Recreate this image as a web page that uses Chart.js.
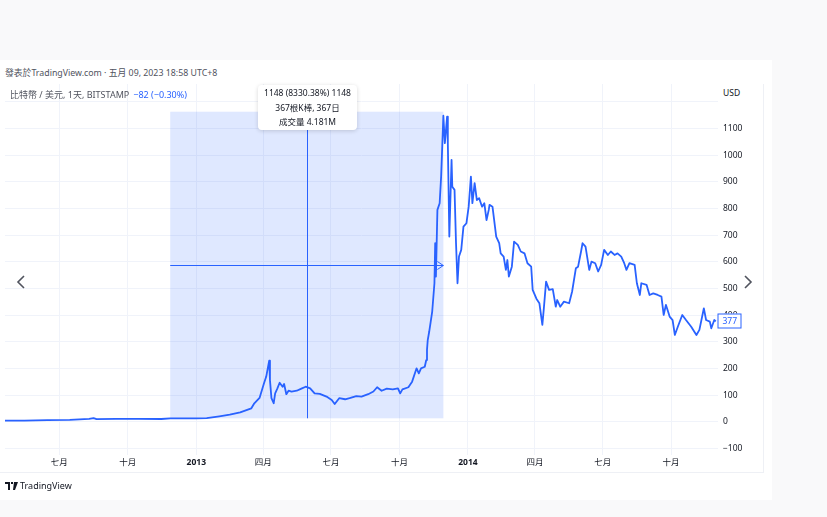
<!DOCTYPE html>
<html><head><meta charset="utf-8">
<script src="https://cdn.jsdelivr.net/npm/chart.js@4.4.0/dist/chart.umd.min.js"></script>
<style>
html,body{margin:0;padding:0;background:#f9f9fa;width:827px;height:517px;overflow:hidden;font-family:"Noto Sans","Noto Sans CJK TC",sans-serif;color:#131722;}
#card{position:absolute;left:0;top:60px;width:772px;height:440px;background:#fff;}
#hdr{position:absolute;left:5px;top:66px;font-size:8.8px;line-height:14px;color:#50535e;white-space:nowrap;}
#panel{position:absolute;left:0;top:84px;width:764px;height:389px;border-right:1px solid #eef0f5;border-bottom:1px solid #eef0f5;box-sizing:border-box;}
#wrap{position:absolute;left:0;top:84px;width:763px;height:388px;}
#legend{position:absolute;left:10px;top:88px;font-size:9px;line-height:14px;color:#50535e;white-space:nowrap;}
#legend .chg{color:#2962ff;margin-left:4px;}
#usd{position:absolute;left:723px;top:87px;font-size:8.5px;line-height:12px;color:#131722;background:#fff;padding-right:6px;}
#tip{position:absolute;left:258px;top:85px;width:99px;height:45px;background:#fff;border-radius:4px;box-shadow:0 1px 4px rgba(0,0,0,0.16);font-size:8.5px;line-height:14.6px;text-align:center;color:#131722;padding-top:1px;box-sizing:border-box;white-space:nowrap;}
#logo{position:absolute;left:5px;top:480px;font-size:9px;line-height:12px;color:#131722;white-space:nowrap;}
#logo svg{vertical-align:-1px;margin-right:2px;}
.chev{position:absolute;top:274px;}
</style>
</head><body>
<div id="card"></div>
<div id="hdr">發表於TradingView.com · 五月 09, 2023 18:58 UTC+8</div>
<div id="panel"></div>
<div id="wrap"><canvas id="c" width="763" height="388"></canvas></div>
<div id="legend">比特幣 / 美元, 1天, BITSTAMP<span class="chg">−82 (−0.30%)</span></div>
<div id="usd">USD</div>
<div id="tip">1148 (8330.38%) 1148<br>367根K棒, 367日<br>成交量 4.181M</div>
<svg class="chev" style="left:16px" width="10" height="16" viewBox="0 0 10 16"><polyline points="8,2 2,8 8,14" fill="none" stroke="#50535e" stroke-width="1.6"/></svg>
<svg class="chev" style="left:743px" width="10" height="16" viewBox="0 0 10 16"><polyline points="2,2 8,8 2,14" fill="none" stroke="#50535e" stroke-width="1.6"/></svg>
<div id="logo"><svg width="13" height="8" viewBox="0 0 13 8"><path d="M0 0h5v8H3V2H0z M6 0h2v2H6z M9 0h4l-3 8H8z" fill="#131722"/></svg>TradingView</div>
<script>
// ---- data ----
const dates = [
'2012-04-10','2012-05-15','2012-06-15','2012-07-15','2012-08-10','2012-08-16','2012-08-20','2012-09-15','2012-10-15','2012-11-15','2012-11-27','2012-12-15',
'2013-01-01','2013-01-15','2013-02-01','2013-02-15','2013-03-01','2013-03-16','2013-03-20','2013-03-27','2013-04-02','2013-04-05','2013-04-09','2013-04-10',
'2013-04-12','2013-04-15','2013-04-17','2013-04-20','2013-04-23','2013-04-27','2013-04-29','2013-05-02','2013-05-05','2013-05-09','2013-05-16','2013-05-23',
'2013-05-28','2013-06-03','2013-06-09','2013-06-16','2013-06-25','2013-07-02','2013-07-06','2013-07-12','2013-07-20','2013-07-26','2013-08-04','2013-08-11',
'2013-08-20','2013-08-27','2013-09-01','2013-09-07','2013-09-14','2013-09-22','2013-09-29','2013-10-02','2013-10-05','2013-10-13','2013-10-18','2013-10-24',
'2013-10-27','2013-10-30','2013-11-04','2013-11-06','2013-11-07','2013-11-08','2013-11-10','2013-11-14','2013-11-17','2013-11-18','2013-11-19','2013-11-21',
'2013-11-24','2013-11-26','2013-11-29','2013-12-01','2013-12-04','2013-12-05','2013-12-07','2013-12-10','2013-12-11','2013-12-14','2013-12-16','2013-12-18',
'2013-12-20','2013-12-23','2013-12-26','2013-12-30','2014-01-02','2014-01-05','2014-01-07','2014-01-10','2014-01-13','2014-01-16','2014-01-20','2014-01-23',
'2014-01-26','2014-01-29','2014-01-30','2014-02-03','2014-02-08','2014-02-12','2014-02-14','2014-02-18','2014-02-21','2014-02-23','2014-02-25','2014-03-01',
'2014-03-04','2014-03-09','2014-03-13','2014-03-18','2014-03-22','2014-03-27','2014-03-29','2014-04-03','2014-04-07','2014-04-11','2014-04-13','2014-04-16',
'2014-04-20','2014-04-25','2014-04-29','2014-05-01','2014-05-05','2014-05-10','2014-05-17','2014-05-21','2014-05-26','2014-05-29','2014-06-02','2014-06-04',
'2014-06-08','2014-06-13','2014-06-16','2014-06-21','2014-06-25','2014-06-29','2014-07-03','2014-07-08','2014-07-12','2014-07-17','2014-07-21','2014-07-26',
'2014-07-30','2014-08-02','2014-08-06','2014-08-13','2014-08-16','2014-08-20','2014-08-22','2014-08-29','2014-09-02','2014-09-07','2014-09-13','2014-09-18',
'2014-09-21','2014-09-24','2014-09-29','2014-10-03','2014-10-06','2014-10-10','2014-10-16','2014-10-21','2014-10-28','2014-11-04','2014-11-08','2014-11-14',
'2014-11-17','2014-11-22','2014-11-24','2014-11-28','2014-11-30'];
const prices = [
5.0,5.0,6.5,7.6,11.5,14.5,10.5,11.5,11.8,11.0,13.6,13.5,
13.5,14.5,21,27,36,51,70,90,145,170,230,157,
89,70,107,126,147,132,142,104,117,114,117,126,
132,126,107,105,95,82,67,89,85,89,97,95,
104,114,130,117,125,122,126,107,122,130,151,201,
182,201,207,232,270,307,339,414,520,670,545,795,
820,920,1148,1045,1145,1045,695,982,882,870,670,520,
620,645,732,745,807,920,820,895,832,839,807,820,
757,795,814,807,695,670,632,620,570,607,545,582,
676,664,639,632,595,582,495,462,445,364,426,526,
495,498,432,457,432,451,445,489,576,582,639,670,
657,570,601,595,564,589,645,626,639,626,632,620,
595,570,595,589,520,476,520,514,476,482,476,470,
401,439,395,382,326,357,401,382,357,326,345,426,
382,376,351,382,377];
const tickDates = ['2012-07-01','2012-10-01','2013-01-01','2013-04-01','2013-07-01','2013-10-01','2014-01-01','2014-04-01','2014-07-01','2014-10-01'];
const tickLabels = ['七月','十月','2013','四月','七月','十月','2014','四月','七月','十月'];
const yTicks = [-100,0,100,200,300,400,500,600,700,800,900,1000,1100,1200];
const rangeDates = ['2012-11-27','2013-11-29'];
const rangeValues = [13.6, 1163];
const lastPrice = 377;
const viewDates = ['2012-04-19','2014-12-03'];
const viewValues = [-124, 1267];

// ---- helpers ----
const BASE = Date.UTC(2013,0,1);
function dayOf(s){const p=s.split('-').map(Number);return (Date.UTC(p[0],p[1]-1,p[2])-BASE)/86400000;}
const yearLabels = new Set(['2013','2014']);
const FONT = '"Noto Sans","Noto Sans CJK TC",sans-serif';
const BLUE = '#2962ff';

const overlay = {
  id:'overlay',
  beforeDatasetsDraw(chart){
    const {ctx,scales:{x,y}} = chart;
    const x0=x.getPixelForValue(dayOf(rangeDates[0])), x1=x.getPixelForValue(dayOf(rangeDates[1]));
    const y0=y.getPixelForValue(rangeValues[0]), y1=y.getPixelForValue(rangeValues[1]);
    ctx.save();
    ctx.fillStyle='rgba(41,98,255,0.15)';
    ctx.fillRect(x0,y1,x1-x0,y0-y1);
    ctx.restore();
  },
  afterDatasetsDraw(chart){
    const {ctx,scales:{x,y}} = chart;
    const d0=dayOf(rangeDates[0]), d1=dayOf(rangeDates[1]);
    const x0=x.getPixelForValue(d0), x1=x.getPixelForValue(d1);
    const xm=Math.round(x.getPixelForValue((d0+d1)/2))+0.5;
    const y0=y.getPixelForValue(rangeValues[0]), y1=y.getPixelForValue(rangeValues[1]);
    const ym=Math.round(y.getPixelForValue((rangeValues[0]+rangeValues[1])/2))+0.5;
    ctx.save();
    ctx.strokeStyle=BLUE; ctx.lineWidth=1;
    ctx.beginPath(); ctx.moveTo(xm,y1); ctx.lineTo(xm,y0); ctx.stroke();
    ctx.beginPath(); ctx.moveTo(x0,ym); ctx.lineTo(x1,ym); ctx.stroke();
    ctx.beginPath(); ctx.moveTo(x1-6,ym-4); ctx.lineTo(x1,ym); ctx.lineTo(x1-6,ym+4); ctx.stroke();
    ctx.restore();
  },
  afterDraw(chart){
    const {ctx,chartArea,scales:{y}} = chart;
    const py=Math.round(y.getPixelForValue(lastPrice));
    const bx=chartArea.right-0.5, bw=24, bh=15;
    ctx.save();
    ctx.fillStyle='#fff'; ctx.strokeStyle=BLUE; ctx.lineWidth=1;
    ctx.fillRect(bx,py-bh/2,bw,bh);
    ctx.strokeRect(bx+0.5,py-bh/2+0.5,bw-1,bh-1);
    ctx.fillStyle=BLUE; ctx.font='8.5px '+FONT; ctx.textBaseline='middle'; ctx.textAlign='left';
    ctx.fillText(String(lastPrice),bx+5,py+0.5);
    ctx.restore();
  }
};

function noPad(s){s.paddingTop=0;s.paddingBottom=0;s.paddingLeft=0;s.paddingRight=0;}

new Chart(document.getElementById('c'),{
  type:'line',
  data:{datasets:[{
    data: dates.map((d,i)=>({x:dayOf(d),y:prices[i]})),
    borderColor:BLUE, borderWidth:1.8, pointRadius:0, tension:0, fill:false,
    borderJoinStyle:'round'
  }]},
  options:{
    responsive:false, animation:false, devicePixelRatio:1,
    layout:{padding:{left:5,right:0,top:0,bottom:0}},
    plugins:{legend:{display:false},tooltip:{enabled:false}},
    scales:{
      x:{type:'linear', min:dayOf(viewDates[0]), max:dayOf(viewDates[1]),
        afterBuildTicks(s){s.ticks=tickDates.map(d=>({value:dayOf(d)}));},
        afterFit(s){s.height=17;noPad(s);},
        grid:{color:'#f0f3fa',drawTicks:false},
        border:{display:false},
        ticks:{autoSkip:false,maxRotation:0,padding:2,color:'#131722',
          font:(c)=>({family:FONT,size:8.5,weight:(c.tick&&yearLabels.has(tickLabels[c.index]))?'bold':'normal'}),
          callback:(v,i)=>tickLabels[i]}
      },
      y:{type:'linear', position:'right', min:viewValues[0], max:viewValues[1],
        afterBuildTicks(s){s.ticks=yTicks.map(v=>({value:v}));},
        afterFit(s){s.width=45;noPad(s);},
        grid:{color:'#f0f3fa',drawTicks:false},
        border:{display:false},
        ticks:{padding:5,color:'#131722',font:{family:FONT,size:8.5},
          callback:(v)=>v===1200?'':(v<0?'−'+Math.abs(v):String(v))}
      }
    }
  },
  plugins:[overlay]
});
</script>
</body></html>
